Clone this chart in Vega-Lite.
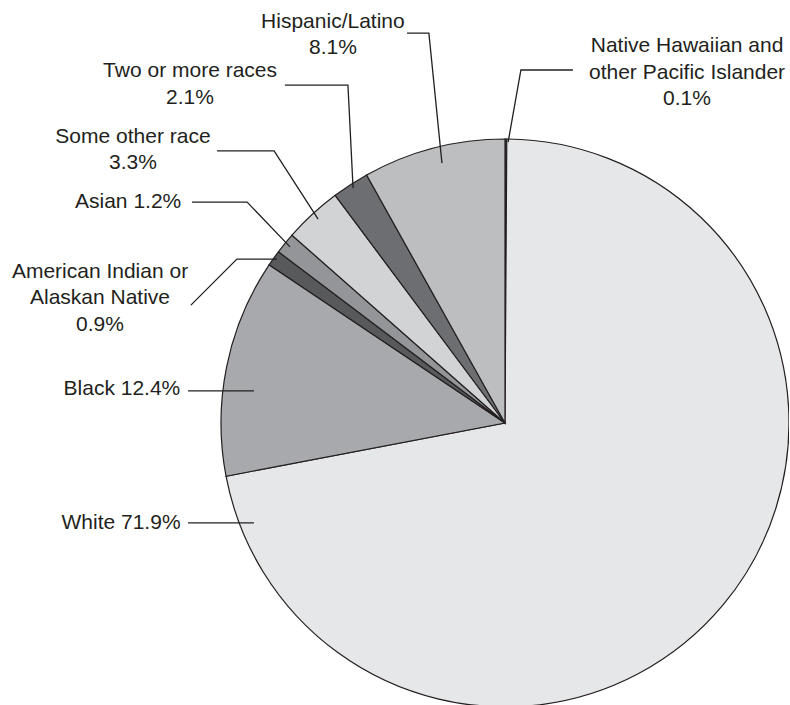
{
  "$schema": "https://vega.github.io/schema/vega-lite/v6.json",
  "width": 568,
  "height": 568,
  "autosize": {"type": "none"},
  "padding": {"left": 221, "top": 139, "right": 0, "bottom": 0},
  "background": "white",
  "view": {"stroke": null},
  "config": {"font": "Liberation Sans"},
  "datasets": {
    "slices": [
      {"group": "Native Hawaiian and other Pacific Islander", "pct": 0.1, "order": 0},
      {"group": "White", "pct": 71.9, "order": 1},
      {"group": "Black", "pct": 12.4, "order": 2},
      {"group": "American Indian or Alaskan Native", "pct": 0.9, "order": 3},
      {"group": "Asian", "pct": 1.2, "order": 4},
      {"group": "Some other race", "pct": 3.3, "order": 5},
      {"group": "Two or more races", "pct": 2.1, "order": 6},
      {"group": "Hispanic/Latino", "pct": 8.1, "order": 7}
    ],
    "leaders": [
      {"group": "Hispanic/Latino", "seq": 1, "x": -0.345, "y": 1.373},
      {"group": "Hispanic/Latino", "seq": 2, "x": -0.268, "y": 1.373},
      {"group": "Hispanic/Latino", "seq": 3, "x": -0.222, "y": 0.915},
      {"group": "Two or more races", "seq": 1, "x": -0.775, "y": 1.19},
      {"group": "Two or more races", "seq": 2, "x": -0.553, "y": 1.19},
      {"group": "Two or more races", "seq": 3, "x": -0.535, "y": 0.827},
      {"group": "Native Hawaiian", "seq": 1, "x": 0.239, "y": 1.243},
      {"group": "Native Hawaiian", "seq": 2, "x": 0.056, "y": 1.243},
      {"group": "Native Hawaiian", "seq": 3, "x": 0.011, "y": 0.989},
      {"group": "Some other race", "seq": 1, "x": -1.014, "y": 0.958},
      {"group": "Some other race", "seq": 2, "x": -0.813, "y": 0.958},
      {"group": "Some other race", "seq": 3, "x": -0.658, "y": 0.718},
      {"group": "Asian", "seq": 1, "x": -1.102, "y": 0.778},
      {"group": "Asian", "seq": 2, "x": -0.908, "y": 0.778},
      {"group": "Asian", "seq": 3, "x": -0.757, "y": 0.62},
      {"group": "American Indian", "seq": 1, "x": -1.106, "y": 0.415},
      {"group": "American Indian", "seq": 2, "x": -0.944, "y": 0.577},
      {"group": "American Indian", "seq": 3, "x": -0.803, "y": 0.577},
      {"group": "Black", "seq": 1, "x": -1.116, "y": 0.113},
      {"group": "Black", "seq": 2, "x": -0.884, "y": 0.113},
      {"group": "White", "seq": 1, "x": -1.116, "y": -0.352},
      {"group": "White", "seq": 2, "x": -0.884, "y": -0.352}
    ],
    "labels": [
      {"text": "Hispanic/Latino\n8.1%", "x": -0.606, "y": 1.391},
      {"text": "Two or more races\n2.1%", "x": -1.109, "y": 1.218},
      {"text": "Native Hawaiian and\nother Pacific Islander\n0.1%", "x": 0.641, "y": 1.306},
      {"text": "Some other race\n3.3%", "x": -1.31, "y": 0.986},
      {"text": "Asian 1.2%", "x": -1.327, "y": 0.757},
      {"text": "American Indian or\nAlaskan Native\n0.9%", "x": -1.426, "y": 0.511},
      {"text": "Black 12.4%", "x": -1.349, "y": 0.099},
      {"text": "White 71.9%", "x": -1.352, "y": -0.373}
    ]
  },
  "layer": [
    {
      "data": {"name": "slices"},
      "mark": {"type": "arc", "stroke": "#231f20", "strokeWidth": 1.2, "outerRadius": 284},
      "encoding": {
        "theta": {"field": "pct", "type": "quantitative", "stack": true},
        "order": {"field": "order", "type": "quantitative"},
        "color": {
          "field": "group",
          "type": "nominal",
          "legend": null,
          "scale": {
            "domain": ["Native Hawaiian and other Pacific Islander", "White", "Black", "American Indian or Alaskan Native", "Asian", "Some other race", "Two or more races", "Hispanic/Latino"],
            "range": ["#414042", "#e6e7e8", "#a7a9ac", "#58595b", "#939598", "#d1d3d4", "#6d6e71", "#bcbec0"]
          }
        }
      }
    },
    {
      "data": {"name": "leaders"},
      "mark": {"type": "line", "color": "#231f20", "strokeWidth": 1.3},
      "encoding": {
        "x": {"field": "x", "type": "quantitative", "axis": null, "scale": {"domain": [-1, 1], "nice": false, "zero": false}},
        "y": {"field": "y", "type": "quantitative", "axis": null, "scale": {"domain": [-1, 1], "nice": false, "zero": false}},
        "detail": {"field": "group"},
        "order": {"field": "seq", "type": "quantitative"}
      }
    },
    {
      "data": {"name": "labels"},
      "transform": [{"calculate": "split(datum.text, '\\n')", "as": "lines"}],
      "mark": {"type": "text", "align": "center", "baseline": "alphabetic", "fontSize": 21, "lineHeight": 26.5, "color": "#231f20"},
      "encoding": {
        "x": {"field": "x", "type": "quantitative"},
        "y": {"field": "y", "type": "quantitative"},
        "text": {"field": "lines"}
      }
    }
  ]
}
